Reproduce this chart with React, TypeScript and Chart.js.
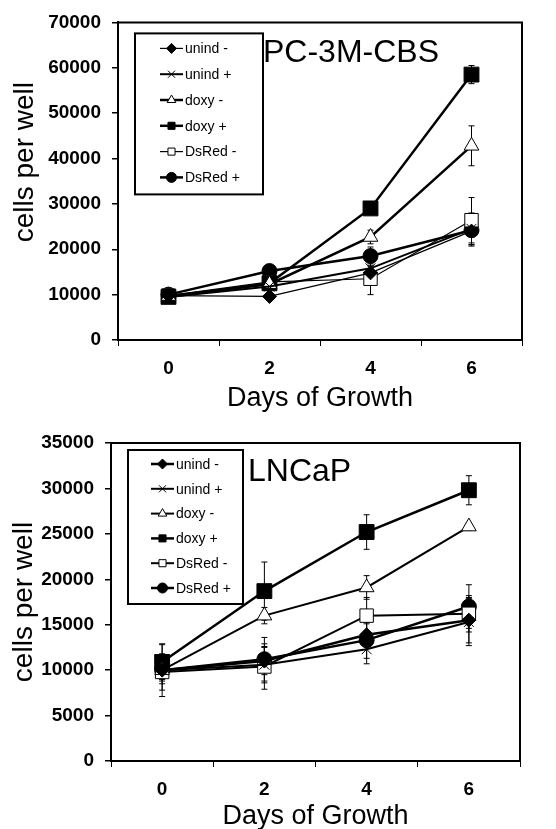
import React, { useEffect, useRef } from 'react';
import { Chart, registerables } from 'chart.js';
import { drawPoint } from 'chart.js/helpers';

Chart.register(...registerables);

// ---------- data ----------
const days = ['0', '2', '4', '6'];
const seriesNames = ['unind -', 'unind +', 'doxy -', 'doxy +', 'DsRed -', 'DsRed +'];

// PC-3M-CBS panel (cells per well)
const pcUnindMinus = [9800, 9600, 14800, 24000];
const pcUnindPlus = [9500, 11800, 15800, 24500];
const pcDoxyMinus = [9700, 12300, 22700, 42800];
const pcDoxyPlus = [9500, 12500, 29000, 58500];
const pcDsRedMinus = [9800, 12800, 13500, 26400];
const pcDsRedPlus = [10000, 15200, 18500, 24200];
// PC-3M-CBS error (+/-)
const pcUnindMinusErr = [300, 400, 1500, 3000];
const pcUnindPlusErr = [300, 500, 1500, 3500];
const pcDoxyMinusErr = [400, 500, 1500, 4400];
const pcDoxyPlusErr = [400, 500, 800, 2000];
const pcDsRedMinusErr = [400, 800, 3500, 5000];
const pcDsRedPlusErr = [400, 500, 2000, 3500];

// LNCaP panel (cells per well)
const lnUnindMinus = [10000, 11000, 13900, 15500];
const lnUnindPlus = [10000, 10600, 12300, 15300];
const lnDoxyMinus = [10000, 16000, 19100, 25800];
const lnDoxyPlus = [10900, 18700, 25200, 29800];
const lnDsRedMinus = [9800, 10400, 16000, 16200];
const lnDsRedPlus = [10000, 11200, 13300, 17000];
// LNCaP error (+/-)
const lnUnindMinusErr = [1500, 1500, 1200, 2500];
const lnUnindPlusErr = [1200, 2000, 1600, 2600];
const lnDoxyMinusErr = [1000, 900, 1300, 400];
const lnDoxyPlusErr = [1900, 3200, 1900, 1600];
const lnDsRedMinusErr = [2000, 2500, 2000, 2000];
const lnDsRedPlusErr = [2900, 2400, 2000, 2400];

const pcMax = 70000;
const pcStep = 10000;
const lnMax = 35000;
const lnStep = 5000;

const yTitle = 'cells per well';
const xTitle = 'Days of Growth';

// ---------- styles ----------
const FONT = "'Liberation Sans', Arial, Helvetica, sans-serif";
const pointStyles = ['rectRot', 'crossRot', 'triangle', 'rect', 'rect', 'circle'];
const pointFills = ['#000', '#000', '#fff', '#000', '#fff', '#000'];
const pointRadii = [7, 7, 8.5, 10.5, 9.5, 7.5];

Chart.defaults.color = '#000';

const framePlugin = {
  id: 'frame',
  afterDraw(chart: any) {
    const { ctx, chartArea: a } = chart;
    ctx.save();
    ctx.strokeStyle = '#000';
    ctx.lineWidth = 2;
    ctx.beginPath();
    ctx.moveTo(a.left, a.top);
    ctx.lineTo(a.right, a.top);
    ctx.lineTo(a.right, a.bottom);
    ctx.stroke();
    ctx.restore();
  },
};

const errorBarPlugin = {
  id: 'errorBars',
  beforeDatasetsDraw(chart: any) {
    const { ctx } = chart;
    const ys = chart.scales.y;
    ctx.save();
    ctx.strokeStyle = '#000';
    ctx.lineWidth = 1;
    chart.data.datasets.forEach((ds: any, di: number) => {
      const meta = chart.getDatasetMeta(di);
      ds.data.forEach((v: number, i: number) => {
        const e = ds.errors[i];
        const x = meta.data[i].x;
        const y1 = ys.getPixelForValue(v + e);
        const y2 = ys.getPixelForValue(v - e);
        ctx.beginPath();
        ctx.moveTo(x, y1);
        ctx.lineTo(x, y2);
        ctx.moveTo(x - 3, y1);
        ctx.lineTo(x + 3, y1);
        ctx.moveTo(x - 3, y2);
        ctx.lineTo(x + 3, y2);
        ctx.stroke();
      });
    });
    ctx.restore();
  },
};

const boxLegendPlugin = {
  id: 'boxLegend',
  afterDraw(chart: any, _args: any, opts: any) {
    const { ctx, chartArea: a } = chart;
    const bx = a.left + opts.dx;
    const by = a.top + opts.dy;
    ctx.save();
    ctx.fillStyle = '#fff';
    ctx.fillRect(bx, by, opts.w, opts.h);
    ctx.strokeStyle = '#000';
    ctx.lineWidth = 2;
    ctx.strokeRect(bx, by, opts.w, opts.h);
    ctx.font = `${opts.fontSize}px ${FONT}`;
    ctx.textBaseline = 'middle';
    ctx.textAlign = 'left';
    chart.data.datasets.forEach((ds: any, i: number) => {
      const cy = by + opts.firstRow + i * opts.rowGap;
      const x0 = bx + opts.lineStart;
      const x1 = bx + opts.lineEnd;
      ctx.strokeStyle = '#000';
      ctx.lineWidth = ds.borderWidth;
      ctx.beginPath();
      ctx.moveTo(x0, cy);
      ctx.lineTo(x1, cy);
      ctx.stroke();
      ctx.fillStyle = ds.pointBackgroundColor;
      ctx.strokeStyle = '#000';
      ctx.lineWidth = 1;
      drawPoint(ctx, { pointStyle: ds.pointStyle, radius: opts.markerRadius, borderWidth: 1, rotation: 0 } as any, (x0 + x1) / 2, cy);
      ctx.fillStyle = '#000';
      ctx.fillText(ds.label, bx + opts.textStart, cy + 1);
    });
    ctx.restore();
  },
};

const panelLabelPlugin = {
  id: 'panelLabel',
  afterDraw(chart: any, _args: any, opts: any) {
    const { ctx, chartArea: a } = chart;
    ctx.save();
    ctx.fillStyle = '#000';
    ctx.font = `${opts.size}px ${FONT}`;
    ctx.textBaseline = 'middle';
    ctx.textAlign = 'left';
    ctx.fillText(opts.text, a.left + opts.dx, a.top + opts.dy);
    ctx.restore();
  },
};

const yTitlePlugin = {
  id: 'yTitle',
  afterDraw(chart: any, _args: any, opts: any) {
    const { ctx, chartArea: a } = chart;
    ctx.save();
    ctx.fillStyle = '#000';
    ctx.font = `${opts.size}px ${FONT}`;
    ctx.textBaseline = 'middle';
    ctx.textAlign = 'center';
    ctx.translate(opts.x, a.top + (a.bottom - a.top) * opts.frac);
    ctx.rotate(-Math.PI / 2);
    ctx.fillText(opts.text, 0, 0);
    ctx.restore();
  },
};

type PanelCfg = {
  height: number;
  values: number[][];
  errors: number[][];
  widths: number[];
  max: number;
  step: number;
  yWidth: number;
  xHeight: number;
  padTop: number;
  padRight: number;
  xTitleLH: number;
  legend: any;
  labelOpts: any;
  yTitleOpts: any;
};

function Panel({ cfg }: { cfg: PanelCfg }) {
  const ref = useRef<HTMLCanvasElement>(null);
  useEffect(() => {
    const datasets = seriesNames.map((name, i) => ({
      label: name,
      data: cfg.values[i],
      errors: cfg.errors[i],
      borderColor: '#000',
      borderWidth: cfg.widths[i],
      pointStyle: pointStyles[i],
      pointRadius: pointRadii[i],
      pointBackgroundColor: pointFills[i],
      pointBorderColor: '#000',
      pointBorderWidth: 1,
      tension: 0,
      fill: false,
    }));
    const chart = new Chart(ref.current as HTMLCanvasElement, {
      type: 'line',
      data: { labels: days, datasets: datasets as any },
      options: {
        animation: false,
        responsive: false,
        devicePixelRatio: 1,
        layout: { padding: { top: cfg.padTop, right: cfg.padRight, left: 0, bottom: 0 } },
        plugins: {
          legend: { display: false },
          tooltip: { enabled: false },
          boxLegend: cfg.legend,
          panelLabel: cfg.labelOpts,
          yTitle: cfg.yTitleOpts,
        } as any,
        scales: {
          x: {
            type: 'category',
            offset: true,
            grid: { offset: true, drawOnChartArea: false, drawTicks: true, tickLength: 6, color: '#000', lineWidth: 1 },
            border: { display: true, color: '#000', width: 2 },
            ticks: { font: { family: FONT, size: 19, weight: 'bold' }, color: '#000', padding: 11, maxRotation: 0 },
            title: {
              display: true,
              text: xTitle,
              font: { family: FONT, size: 27, lineHeight: cfg.xTitleLH },
              color: '#000',
              padding: { top: 0, bottom: 0 },
            },
            afterFit: (s: any) => { s.height = cfg.xHeight; },
          },
          y: {
            min: 0,
            max: cfg.max,
            grid: { drawOnChartArea: false, drawTicks: true, tickLength: 6, color: '#000', lineWidth: 1.5 },
            border: { display: true, color: '#000', width: 2 },
            ticks: {
              stepSize: cfg.step,
              font: { family: FONT, size: 19, weight: 'bold' },
              color: '#000',
              padding: 11,
              callback: (v: any) => String(v),
            },
            afterFit: (s: any) => { s.width = cfg.yWidth; },
          },
        },
      } as any,
      plugins: [errorBarPlugin, framePlugin, boxLegendPlugin, panelLabelPlugin, yTitlePlugin],
    });
    return () => chart.destroy();
  }, []);
  return (
    <canvas
      ref={ref}
      width={556}
      height={cfg.height}
      style={{ display: 'block', width: 556, height: cfg.height }}
    />
  );
}

const topCfg: PanelCfg = {
  height: 415,
  values: [pcUnindMinus, pcUnindPlus, pcDoxyMinus, pcDoxyPlus, pcDsRedMinus, pcDsRedPlus],
  errors: [pcUnindMinusErr, pcUnindPlusErr, pcDoxyMinusErr, pcDoxyPlusErr, pcDsRedMinusErr, pcDsRedPlusErr],
  widths: [1.2, 2, 2.5, 2.5, 1.2, 2.5],
  max: pcMax,
  step: pcStep,
  yWidth: 118,
  xHeight: 75,
  padTop: 22,
  padRight: 34,
  xTitleLH: 1.2,
  legend: { dx: 17, dy: 11, w: 128, h: 161, fontSize: 14, firstRow: 15, rowGap: 25.8, lineStart: 25, lineEnd: 48, textStart: 50, markerRadius: 5 },
  labelOpts: { text: 'PC-3M-CBS', size: 32, dx: 145, dy: 31 },
  yTitleOpts: { text: yTitle, size: 28, x: 25, frac: 0.44 },
};

const bottomCfg: PanelCfg = {
  height: 414,
  values: [lnUnindMinus, lnUnindPlus, lnDoxyMinus, lnDoxyPlus, lnDsRedMinus, lnDsRedPlus],
  errors: [lnUnindMinusErr, lnUnindPlusErr, lnDoxyMinusErr, lnDoxyPlusErr, lnDsRedMinusErr, lnDsRedPlusErr],
  widths: [2.5, 2, 2, 2.5, 2, 2.5],
  max: lnMax,
  step: lnStep,
  yWidth: 111,
  xHeight: 68,
  padTop: 28,
  padRight: 36,
  xTitleLH: 0.9,
  legend: { dx: 17, dy: 7, w: 115, h: 154, fontSize: 14, firstRow: 14, rowGap: 24.8, lineStart: 23, lineEnd: 46, textStart: 48, markerRadius: 5 },
  labelOpts: { text: 'LNCaP', size: 32, dx: 137, dy: 29 },
  yTitleOpts: { text: yTitle, size: 28, x: 24, frac: 0.5 },
};

export default function App() {
  useEffect(() => {
    document.body.style.margin = '0';
  }, []);
  return (
    <div style={{ width: 556, background: '#fff' }}>
      <Panel cfg={topCfg} />
      <Panel cfg={bottomCfg} />
    </div>
  );
}
